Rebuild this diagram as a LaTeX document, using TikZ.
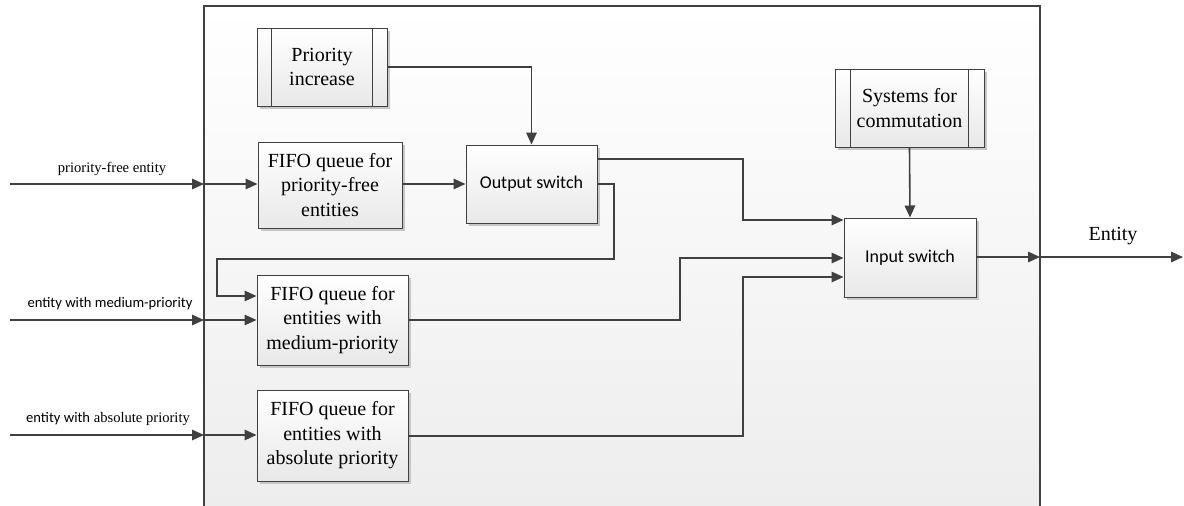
\documentclass[tikz,border=0pt]{standalone}
\usepackage{fontspec}
\setmainfont{Liberation Serif}
\newfontfamily\calfont{Carlito}
\usetikzlibrary{arrows.meta,shadows,calc}
\definecolor{lnc}{HTML}{404040}
\begin{document}
\begin{tikzpicture}[x=1pt,y=-1pt,
  lnk/.style={draw=lnc,line width=1.6pt},
  arr/.style={lnk,-{Triangle[length=12pt,width=10.5pt]}},
  blk/.style={draw=lnc,line width=1pt,top color=white,bottom color=black!9,
     drop shadow={shadow xshift=2.5pt,shadow yshift=-2.5pt,fill=black!22,opacity=1},
     align=center,inner sep=0pt,font=\fontsize{20}{24.5}\selectfont},
  sblk/.style={blk,font=\calfont\fontsize{18}{22}\selectfont},
  lbl/.style={font=\fontsize{14.6}{17}\selectfont,inner sep=0pt}
]
\useasboundingbox (0,0) rectangle (1184,506);
% big frame
\fill[top color=white,bottom color=black!7] (204,6) rectangle (1040,506);
\draw[draw=lnc,line width=1.2pt] (204,506) -- (204,6) -- (1040,6) -- (1040,506);

% blocks
\node[blk,minimum width=130pt,minimum height=78pt] (pinc) at (322,67) {Priority\\increase};
\draw[lnc,line width=1pt] ($(pinc.north west)+(15pt,0)$) -- ($(pinc.south west)+(15pt,0)$)
  ($(pinc.north east)+(-15pt,0)$) -- ($(pinc.south east)+(-15pt,0)$);
\node[blk,minimum width=144pt,minimum height=86pt] (fifo1) at (330,185) {FIFO queue for\\priority-free\\entities};
\node[sblk,minimum width=131pt,minimum height=78pt] (outsw) at (531.5,184) {Output switch};
\node[blk,minimum width=149pt,minimum height=78pt] (syscom) at (909.5,108) {Systems for\\commutation};
\draw[lnc,line width=1pt] ($(syscom.north west)+(16pt,0)$) -- ($(syscom.south west)+(16pt,0)$)
  ($(syscom.north east)+(-16pt,0)$) -- ($(syscom.south east)+(-16pt,0)$);
\node[sblk,minimum width=132pt,minimum height=79pt] (insw) at (910,257.5) {Input switch};
\node[blk,minimum width=151pt,minimum height=90pt] (fifo2) at (332.5,320) {FIFO queue for\\entities with\\medium-priority};
\node[blk,minimum width=151pt,minimum height=91pt] (fifo3) at (332.5,435.5) {FIFO queue for\\entities with\\absolute priority};

% coordinates
\coordinate (s1) at (10,184);
\coordinate (s2) at (10,320);
\coordinate (s3) at (10,435);
\coordinate (b1) at (204,184);
\coordinate (b2) at (204,320);
\coordinate (b3) at (204,435);
\coordinate (bo) at (1040,257);
\coordinate (eo) at (1183,257);

% inputs
\draw[arr] (s1) -- (b1);
\draw[arr] (b1) -- (fifo1.west |- b1);
\draw[arr] (s2) -- (b2);
\draw[arr] (b2) -- (fifo2.west |- b2);
\draw[arr] (s3) -- (b3);
\draw[arr] (b3) -- (fifo3.west |- b3);

% internal
\draw[arr] (pinc.east) -| (outsw.north);
\draw[arr] (fifo1.east |- outsw.west) -- (outsw.west);
\draw[arr] (outsw.east |- 0,159) -- (743,159) -- (743,220) -- (insw.west |- 0,220);
\draw[arr] (outsw.east) -- (614,184) -- (614,259) -- (217,259) -- (217,296) -- (fifo2.west |- 0,296);
\draw[arr] (fifo2.east) -- (680,320) -- (680,258) -- (insw.west |- 0,258);
\draw[arr] (fifo3.east |- 0,436) -- (743,436) -- (743,277) -- (insw.west |- 0,277);
\draw[arr] (syscom.south) -- (insw.north);
\draw[arr] (insw.east |- bo) -- (bo);
\draw[arr] (bo) -- (eo);

% labels
\node[lbl] (l1) at (112,169) {priority-free entity};
\node[lbl,font=\calfont\fontsize{14.6}{17}\selectfont] (l2) at (110,304) {entity with medium-priority};
\node[lbl] (l3) at (108,419) {{\calfont entity with} absolute priority};
\node[font=\fontsize{20}{24}\selectfont,inner sep=0pt] (l4) at (1113,236) {Entity};
\end{tikzpicture}
\end{document}
